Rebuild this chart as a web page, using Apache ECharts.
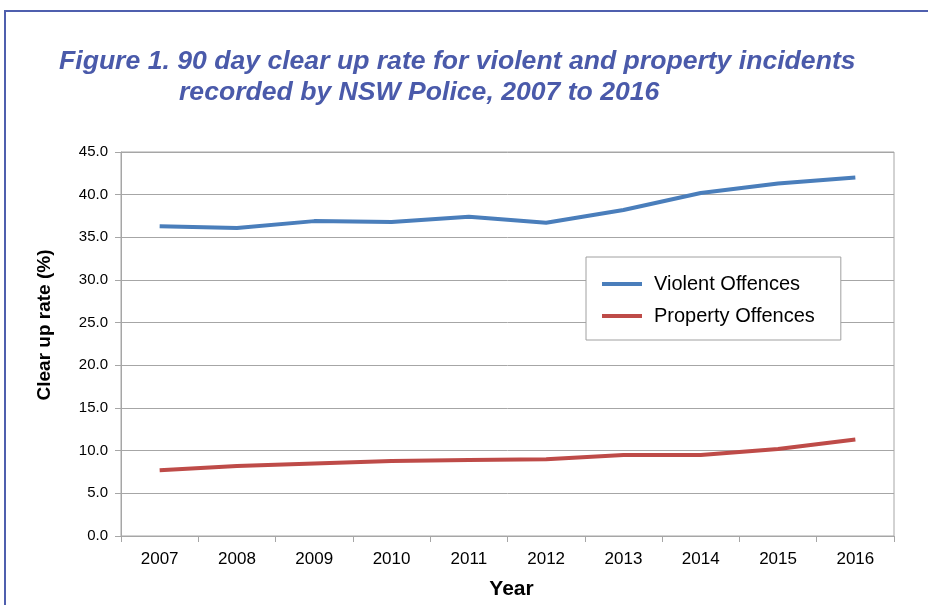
<!DOCTYPE html>
<html>
<head>
<meta charset="utf-8">
<script src="https://cdn.jsdelivr.net/npm/echarts@6/dist/echarts.min.js"></script>
<style>
  html, body { margin: 0; padding: 0; background: #fff; }
  #chart { width: 928px; height: 605px; }
</style>
</head>
<body>
<div id="chart"></div>
<script>
// data
var years = ['2007', '2008', '2009', '2010', '2011', '2012', '2013', '2014', '2015', '2016'];
var violent = [36.3, 36.1, 36.9, 36.8, 37.4, 36.7, 38.2, 40.2, 41.3, 42.0];
var property = [7.7, 8.2, 8.5, 8.8, 8.9, 9.0, 9.5, 9.5, 10.2, 11.3];
var seriesNames = ['Violent Offences', 'Property Offences'];

var chart = echarts.init(document.getElementById('chart'));

var titleColor = '#4A5AAA';
var gridColor = '#A6A6A6';
var font = 'Liberation Sans';

var option = {
    animation: false,
    backgroundColor: '#fff',
    title: [
        {
            text: 'Figure 1. 90 day clear up rate for violent and property incidents',
            left: 54, top: 43,
            textStyle: { fontFamily: font, fontStyle: 'italic', fontWeight: 'bold', fontSize: 26.6, color: titleColor }
        },
        {
            text: 'recorded by NSW Police, 2007 to 2016',
            left: 174, top: 74,
            textStyle: { fontFamily: font, fontStyle: 'italic', fontWeight: 'bold', fontSize: 26.6, color: titleColor }
        }
    ],
    graphic: [
        {
            type: 'rect',
            shape: { x: 5, y: 11, width: 940, height: 620 },
            style: { fill: 'none', stroke: '#4F5FAE', lineWidth: 2 },
            silent: true
        },
        {
            // y axis title sits a little above the middle of the plot
            type: 'text',
            x: 45, y: 325,
            rotation: Math.PI / 2,
            style: {
                text: 'Clear up rate (%)',
                fontFamily: font, fontWeight: 'bold', fontSize: 19, fill: '#000',
                textAlign: 'center', textVerticalAlign: 'middle'
            },
            silent: true
        }
    ],
    legend: {
        data: seriesNames,
        orient: 'vertical',
        left: 586, top: 257,
        backgroundColor: '#fff',
        borderColor: '#A0A0A0',
        borderWidth: 1,
        padding: [17, 26, 14, 16],
        itemGap: 12,
        itemWidth: 40,
        itemHeight: 4,
        icon: 'rect',
        textStyle: { fontFamily: font, fontSize: 20, color: '#000', padding: [0, 0, 0, 7] }
    },
    grid: {
        left: 121, top: 152, right: 34, bottom: 68,
        show: true, borderColor: gridColor, borderWidth: 1,
        containLabel: false
    },
    xAxis: {
        type: 'category',
        data: years,
        boundaryGap: true,
        name: 'Year',
        nameLocation: 'middle',
        nameGap: 43,
        nameTextStyle: { fontFamily: font, fontWeight: 'bold', fontSize: 21, color: '#000', padding: [0, 0, 0, 8] },
        axisLine: { lineStyle: { color: gridColor, width: 1 } },
        axisTick: { show: true, length: 6, lineStyle: { color: gridColor } },
        axisLabel: { fontFamily: font, fontSize: 17, color: '#000', margin: 15 }
    },
    yAxis: {
        type: 'value',
        min: 0, max: 45, interval: 5,
        axisLine: { show: true, lineStyle: { color: gridColor, width: 1 } },
        axisTick: { show: true, length: 6, lineStyle: { color: gridColor } },
        splitLine: { lineStyle: { color: gridColor, width: 1 } },
        axisLabel: {
            fontFamily: font, fontSize: 15, color: '#000', margin: 13,
            formatter: function (v) { return v.toFixed(1); }
        }
    },
    series: [
        {
            name: seriesNames[0], type: 'line', data: violent,
            symbol: 'none', color: '#4A7EBB',
            lineStyle: { width: 4, color: '#4A7EBB' }
        },
        {
            name: seriesNames[1], type: 'line', data: property,
            symbol: 'none', color: '#BE4B48',
            lineStyle: { width: 4, color: '#BE4B48' }
        }
    ]
};

chart.setOption(option);
</script>
</body>
</html>
